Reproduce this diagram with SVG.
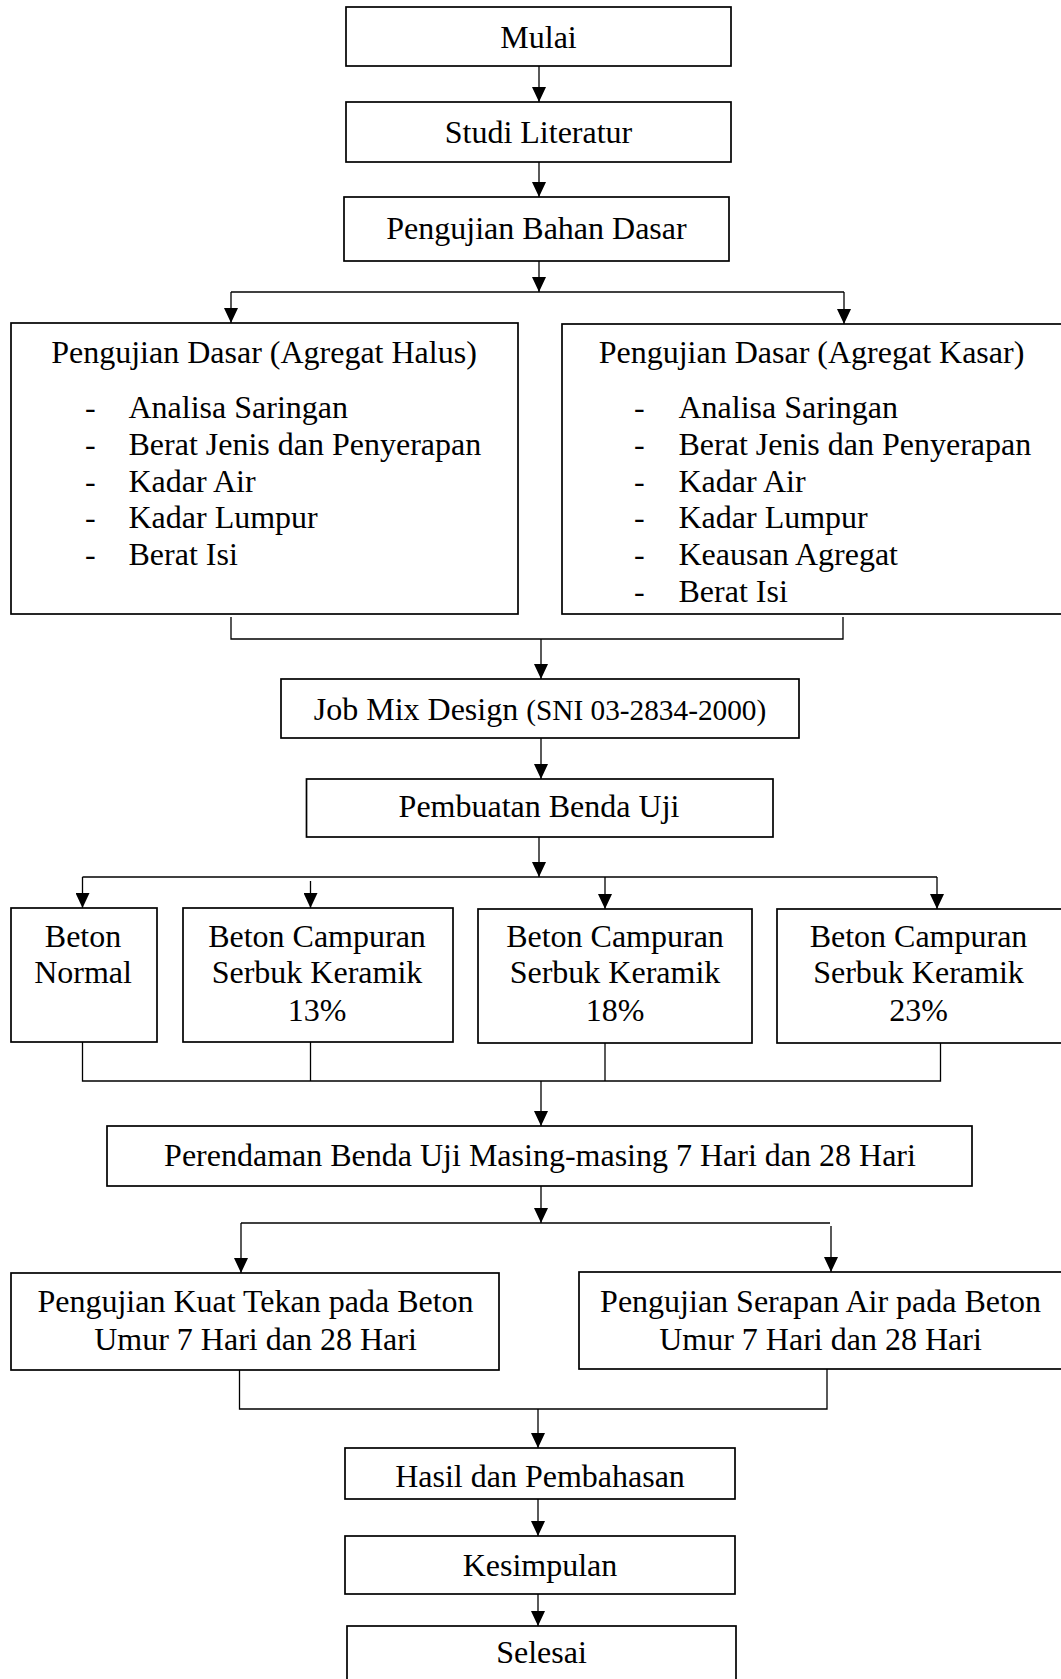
<svg xmlns="http://www.w3.org/2000/svg" width="1061" height="1679" viewBox="0 0 1061 1679">
<style>
.box{fill:#fff;stroke:#000;stroke-width:1.7}
.ln{fill:none;stroke:#000;stroke-width:1.3}
.ar{marker-end:url(#ah)}
.t{font-family:"Liberation Serif","Times New Roman",serif;font-size:32px;fill:#000}
.c{text-anchor:middle}
.s{font-size:29.3px}
</style>
<defs>
<marker id="ah" markerUnits="userSpaceOnUse" markerWidth="15" markerHeight="14" viewBox="0 0 15 14" refX="15" refY="7" orient="auto">
<path d="M0,0 L15,7 L0,14 Z" fill="#000"/>
</marker>
</defs>
<rect width="1061" height="1679" fill="#fff"/>
<g id="connectors">
<path class="ln ar" d="M539,66 V102"/>
<path class="ln ar" d="M539,162 V197"/>
<path class="ln ar" d="M539,261 V292"/>
<path class="ln" d="M231,292 H844"/>
<path class="ln ar" d="M231,292 V323"/>
<path class="ln ar" d="M844,292 V324"/>
<path class="ln" d="M231,617 V639 H843 V617"/>
<path class="ln ar" d="M541,639 V679"/>
<path class="ln ar" d="M541,738 V779"/>
<path class="ln ar" d="M539,837 V877"/>
<path class="ln" d="M82.5,877 H937"/>
<path class="ln ar" d="M82.5,877 V908"/>
<path class="ln ar" d="M310.5,881 V908"/>
<path class="ln ar" d="M605,877 V909"/>
<path class="ln ar" d="M937,877 V909"/>
<path class="ln" d="M82.5,1042 V1081 H940.5 V1043"/>
<path class="ln" d="M310.5,1042 V1081"/>
<path class="ln" d="M605,1043 V1081"/>
<path class="ln ar" d="M541,1081 V1126"/>
<path class="ln ar" d="M541,1186 V1223"/>
<path class="ln" d="M241,1223 H830"/>
<path class="ln ar" d="M241,1223 V1273"/>
<path class="ln ar" d="M831,1226 V1272"/>
<path class="ln" d="M239.5,1370 V1409 H827 V1369"/>
<path class="ln ar" d="M538,1409 V1448"/>
<path class="ln ar" d="M538,1499 V1536"/>
<path class="ln ar" d="M538,1594 V1626"/>
</g>
<g id="mulai"><rect class="box" x="346" y="7" width="385" height="59"/><text class="t c" x="538.5" y="48">Mulai</text></g>
<g id="studi"><rect class="box" x="346" y="102" width="385" height="60"/><text class="t c" x="538.5" y="143">Studi Literatur</text></g>
<g id="bahan"><rect class="box" x="344" y="197" width="385" height="64"/><text class="t c" x="536.5" y="239">Pengujian Bahan Dasar</text></g>
<g id="halus"><rect class="box" x="11" y="323" width="507" height="291"/>
<text class="t c" x="264" y="363">Pengujian Dasar (Agregat Halus)</text>
<text class="t" x="85" y="418">-</text><text class="t" x="128.5" y="418">Analisa Saringan</text>
<text class="t" x="85" y="455">-</text><text class="t" x="128.5" y="455">Berat Jenis dan Penyerapan</text>
<text class="t" x="85" y="492">-</text><text class="t" x="128.5" y="492">Kadar Air</text>
<text class="t" x="85" y="528">-</text><text class="t" x="128.5" y="528">Kadar Lumpur</text>
<text class="t" x="85" y="565">-</text><text class="t" x="128.5" y="565">Berat Isi</text>
</g>
<g id="kasar"><rect class="box" x="562" y="324" width="500" height="290"/>
<text class="t c" x="811.5" y="363">Pengujian Dasar (Agregat Kasar)</text>
<text class="t" x="634" y="418">-</text><text class="t" x="678.5" y="418">Analisa Saringan</text>
<text class="t" x="634" y="455">-</text><text class="t" x="678.5" y="455">Berat Jenis dan Penyerapan</text>
<text class="t" x="634" y="492">-</text><text class="t" x="678.5" y="492">Kadar Air</text>
<text class="t" x="634" y="528">-</text><text class="t" x="678.5" y="528">Kadar Lumpur</text>
<text class="t" x="634" y="565">-</text><text class="t" x="678.5" y="565">Keausan Agregat</text>
<text class="t" x="634" y="602">-</text><text class="t" x="678.5" y="602">Berat Isi</text>
</g>
<g id="jobmix"><rect class="box" x="281" y="679" width="518" height="59"/><text class="t c" x="540" y="720">Job Mix Design <tspan class="s">(SNI 03-2834-2000)</tspan></text></g>
<g id="pembuatan"><rect class="box" x="306.5" y="779" width="466.5" height="58"/><text class="t c" x="539" y="817">Pembuatan Benda Uji</text></g>
<g id="normal"><rect class="box" x="11" y="908" width="146" height="134"/><text class="t c" x="83" y="947">Beton</text><text class="t c" x="83" y="983">Normal</text></g>
<g id="k13"><rect class="box" x="183" y="908" width="270" height="134"/><text class="t c" x="317" y="947">Beton Campuran</text><text class="t c" x="317" y="983">Serbuk Keramik</text><text class="t c" x="317" y="1021">13%</text></g>
<g id="k18"><rect class="box" x="478" y="909" width="274" height="134"/><text class="t c" x="615" y="947">Beton Campuran</text><text class="t c" x="615" y="983">Serbuk Keramik</text><text class="t c" x="615" y="1021">18%</text></g>
<g id="k23"><rect class="box" x="777" y="909" width="285" height="134"/><text class="t c" x="918.5" y="947">Beton Campuran</text><text class="t c" x="918.5" y="983">Serbuk Keramik</text><text class="t c" x="918.5" y="1021">23%</text></g>
<g id="perendaman"><rect class="box" x="107" y="1126" width="865" height="60"/><text class="t c" x="540" y="1166">Perendaman Benda Uji Masing-masing 7 Hari dan 28 Hari</text></g>
<g id="kuattekan"><rect class="box" x="11" y="1273" width="488" height="97"/><text class="t c" x="255.5" y="1312">Pengujian Kuat Tekan pada Beton</text><text class="t c" x="255.5" y="1350">Umur 7 Hari dan 28 Hari</text></g>
<g id="serapan"><rect class="box" x="579" y="1272" width="483" height="97"/><text class="t c" x="820.5" y="1312">Pengujian Serapan Air pada Beton</text><text class="t c" x="820.5" y="1350">Umur 7 Hari dan 28 Hari</text></g>
<g id="hasil"><rect class="box" x="345" y="1448" width="390" height="51"/><text class="t c" x="540" y="1487">Hasil dan Pembahasan</text></g>
<g id="kesimpulan"><rect class="box" x="345" y="1536" width="390" height="58"/><text class="t c" x="540" y="1576">Kesimpulan</text></g>
<g id="selesai"><rect class="box" x="347" y="1626" width="389" height="60"/><text class="t c" x="541.5" y="1663">Selesai</text></g>
</svg>
